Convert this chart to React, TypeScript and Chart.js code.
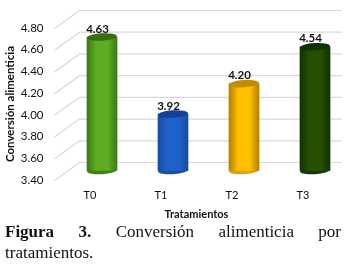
import React, { useEffect, useRef } from "react";
import { Chart, registerables } from "chart.js";

Chart.register(...registerables);

const categories = ["T0", "T1", "T2", "T3"];
const values = [4.63, 3.92, 4.2, 4.54];
const valueLabels = ["4.63", "3.92", "4.20", "4.54"];
const yMin = 3.4;
const yMax = 4.8;
const yStep = 0.2;

const edgeColors = ["#3a7a14", "#174a9f", "#b08000", "#0f3300"];
const midColors = ["#5dac24", "#2061c9", "#ffc000", "#274f00"];
const capColors = ["#35700f", "#134195", "#c48c00", "#0e3300"];
const baseColors = ["#3f8015", "#174ea8", "#e0a400", "#143a00"];

const depthX = 25;
const depthY = -18;
const barShiftX = 12;
const barShiftY = -9.5;
const radiusX = 15;
const radiusY = 3.7;
const tilt = -0.06;
const labelFont = "Lato, 'Liberation Sans', sans-serif";

const cylinderPlugin = {
  id: "cylinder",
  beforeDatasetsDraw(chart: any) {
    const { ctx, scales } = chart;
    const y = scales.y;
    ctx.save();
    ctx.strokeStyle = "#d9d9d9";
    ctx.lineWidth = 1.2;
    y.ticks.forEach((_: any, i: number) => {
      const py = y.getPixelForTick(i);
      ctx.beginPath();
      ctx.moveTo(chart.chartArea.left, py + 0.5);
      ctx.lineTo(chart.chartArea.left + depthX, py + depthY + 0.5);
      ctx.lineTo(342, py + depthY + 0.5);
      ctx.stroke();
    });
    ctx.restore();
    const meta = chart.getDatasetMeta(0);
    ctx.save();
    ctx.translate(barShiftX, barShiftY);
    meta.data.forEach((bar: any, i: number) => {
      ctx.fillStyle = baseColors[i];
      ctx.beginPath();
      ctx.ellipse(bar.x, bar.base, radiusX, radiusY, tilt, 0, Math.PI * 2);
      ctx.fill();
    });
  },
  afterDatasetsDraw(chart: any) {
    const { ctx } = chart;
    const meta = chart.getDatasetMeta(0);
    meta.data.forEach((bar: any, i: number) => {
      ctx.fillStyle = capColors[i];
      ctx.beginPath();
      ctx.ellipse(bar.x, bar.y, radiusX, radiusY, tilt, 0, Math.PI * 2);
      ctx.fill();
    });
    ctx.restore();
    ctx.save();
    ctx.fillStyle = "#111";
    ctx.font = `bold 11.5px ${labelFont}`;
    ctx.textAlign = "center";
    ctx.textBaseline = "middle";
    meta.data.forEach((bar: any, i: number) => {
      ctx.fillText(valueLabels[i], bar.x + 7.5, bar.y - 17.5);
    });
    ctx.restore();
  },
};

export default function App() {
  const ref = useRef<HTMLCanvasElement | null>(null);
  useEffect(() => {
    document.body.style.margin = "0";
    document.body.style.background = "#fff";
    const chart = new Chart(ref.current as HTMLCanvasElement, {
      type: "bar",
      data: {
        labels: categories,
        datasets: [
          {
            data: values,
            base: yMin,
            barThickness: 30,
            borderWidth: 0,
            clip: false,
            backgroundColor: (c: any) => {
              const { chart: ch, dataIndex: i } = c;
              if (!ch.chartArea || i === undefined) return midColors[i ?? 0];
              const x = ch.scales.x.getPixelForValue(i);
              const g = ch.ctx.createLinearGradient(x - 15, 0, x + 15, 0);
              g.addColorStop(0, edgeColors[i]);
              g.addColorStop(0.3, midColors[i]);
              g.addColorStop(0.7, midColors[i]);
              g.addColorStop(1, edgeColors[i]);
              return g;
            },
          } as any,
        ],
      },
      options: {
        animation: false,
        responsive: false,
        layout: { padding: { top: 28, right: 14.5, left: 0, bottom: 50 } },
        plugins: { legend: { display: false }, tooltip: { enabled: false }, title: { display: false } },
        scales: {
          x: {
            grid: { display: false },
            border: { display: false },
            afterFit: (s: any) => {
              s.height = 41;
            },
            ticks: { color: "#111", font: { family: labelFont, size: 11 }, padding: 1, maxRotation: 0 },
            title: {
              display: true,
              text: "Tratamientos",
              color: "#111",
              font: { family: labelFont, size: 11, weight: "bold" },
              padding: { top: 0, bottom: 0 },
            },
          },
          y: {
            min: yMin,
            max: yMax,
            grid: { display: false, drawTicks: false },
            border: { display: false },
            afterFit: (s: any) => {
              s.width = 54.5;
            },
            ticks: {
              stepSize: yStep,
              color: "#111",
              font: { family: labelFont, size: 11.5 },
              padding: 11,
              callback: (v: any) => Number(v).toFixed(2),
            },
            title: {
              display: true,
              text: "Conversión alimenticia",
              color: "#111",
              font: { family: labelFont, size: 11.5, weight: "bold" },
              padding: { top: 3, bottom: 0 },
            },
          },
        },
      },
      plugins: [cylinderPlugin],
    } as any);
    return () => chart.destroy();
  }, []);
  const captionStyle: React.CSSProperties = {
    position: "absolute",
    left: 5,
    width: 336,
    fontFamily: "'Liberation Serif', serif",
    fontSize: 17,
    lineHeight: "21px",
    color: "#111",
    whiteSpace: "normal",
  };
  return (
    <div style={{ position: "relative", width: 353, height: 271, background: "#fff", overflow: "hidden" }}>
      <canvas ref={ref} width={353} height={271} style={{ position: "absolute", left: 0, top: 0 }} />
      <div style={{ ...captionStyle, top: 221, textAlign: "justify", textAlignLast: "justify" }}>
        <b>Figura 3.</b> Conversión alimenticia por
      </div>
      <div style={{ ...captionStyle, top: 242 }}>tratamientos.</div>
    </div>
  );
}
